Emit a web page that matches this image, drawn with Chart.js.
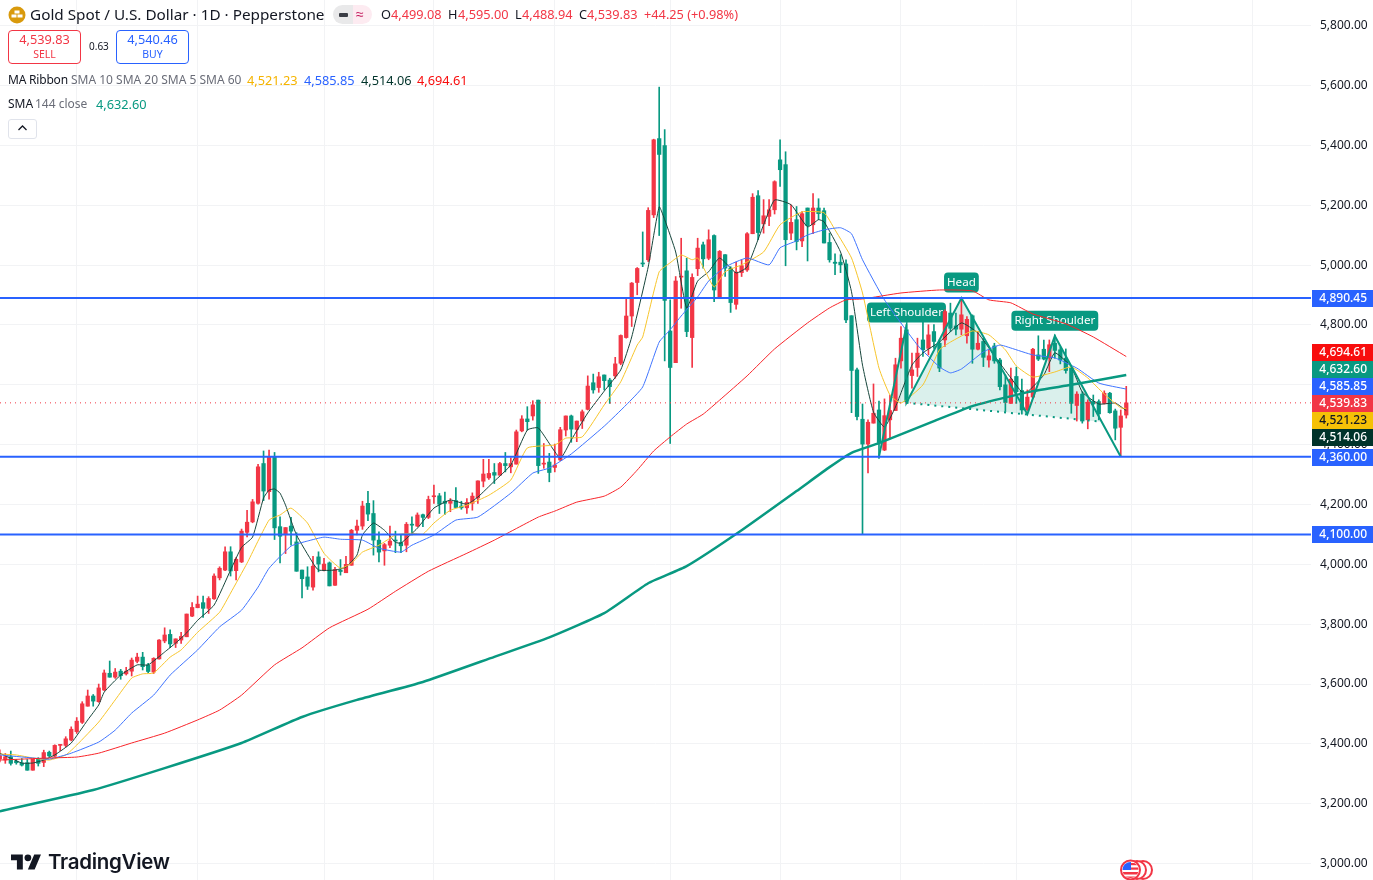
<!DOCTYPE html>
<html>
<head>
<meta charset="utf-8">
<title>Gold Spot / U.S. Dollar</title>
<script src="https://cdn.jsdelivr.net/npm/chart.js"></script>
<style>
  html, body { margin: 0; padding: 0; background: #fff; overflow: hidden; }
  body { width: 1373px; height: 880px; position: relative; font-family: "Noto Sans", sans-serif; color: #131722; }
  #chart { position: absolute; left: 0; top: 0; }
  .t { position: absolute; white-space: nowrap; line-height: 16px; font-size: 12.75px; }
  .s { font-size: 12px; }
  .up { color: #f23645; }
  .grey { color: #6a6d78; }
  .box { position: absolute; top: 30px; width: 71px; height: 32px; border-radius: 4px; background: #fff; text-align: center; }
  .box b { display: block; font-weight: 400; font-size: 12.75px; line-height: 15px; margin-top: 1px; }
  .box i { display: block; font-style: normal; font-size: 10.5px; line-height: 14px; }
</style>
</head>
<body>
<canvas id="chart" width="1373" height="880"></canvas>

<svg style="position:absolute;left:8px;top:6px" width="18" height="18" viewBox="0 0 18 18">
  <circle cx="9" cy="9" r="8.5" fill="#d99a0c"/>
  <rect x="6.5" y="4.5" width="5" height="3" fill="#fff"/>
  <rect x="3.5" y="8.5" width="5" height="3" fill="#fff"/>
  <rect x="9.5" y="8.5" width="5" height="3" fill="#fff"/>
</svg>
<div class="t" style="left:30px;top:5px;font-size:15.3px;line-height:18px">Gold Spot / U.S. Dollar · 1D · Pepperstone</div>
<div style="position:absolute;left:333px;top:5px;width:20px;height:19px;background:#e9e9ea;border-radius:10px 0 0 10px"></div>
<div style="position:absolute;left:353px;top:5px;width:19px;height:19px;background:#fdebf1;border-radius:0 10px 10px 0"></div>
<div style="position:absolute;left:339px;top:13px;width:9px;height:4px;background:#3a3d45;border-radius:1px"></div>
<div class="t" style="left:356px;top:6px;color:#c2185b;font-size:14px">≈</div>
<div class="t" style="left:381px;top:6px">O</div><div class="t up" style="left:391px;top:6px">4,499.08</div>
<div class="t" style="left:448px;top:6px">H</div><div class="t up" style="left:458px;top:6px">4,595.00</div>
<div class="t" style="left:515px;top:6px">L</div><div class="t up" style="left:522px;top:6px">4,488.94</div>
<div class="t" style="left:579px;top:6px">C</div><div class="t up" style="left:587px;top:6px">4,539.83</div>
<div class="t up" style="left:644px;top:6px">+44.25 (+0.98%)</div>

<div class="box" style="left:8px;border:1px solid #f23645;color:#f23645"><b>4,539.83</b><i>SELL</i></div>
<div class="t" style="left:89px;top:38px;font-size:10px">0.63</div>
<div class="box" style="left:116px;border:1px solid #2962ff;color:#2962ff"><b>4,540.46</b><i>BUY</i></div>

<div class="t s" style="left:8px;top:72px;letter-spacing:-0.2px">MA Ribbon</div>
<div class="t s grey" style="left:71px;top:72px">SMA 10 SMA 20 SMA 5 SMA 60</div>
<div class="t" style="left:247px;top:72px;color:#f5b400">4,521.23</div>
<div class="t" style="left:304px;top:72px;color:#2962ff">4,585.85</div>
<div class="t" style="left:361px;top:72px;color:#00332a">4,514.06</div>
<div class="t" style="left:417px;top:72px;color:#f80d0d">4,694.61</div>
<div class="t s" style="left:8px;top:96px">SMA</div>
<div class="t s grey" style="left:35px;top:96px">144 close</div>
<div class="t" style="left:96px;top:96px;color:#089981">4,632.60</div>
<div style="position:absolute;left:8px;top:119px;width:27px;height:18px;border:1px solid #e0e3eb;border-radius:3px;background:#fff"></div>
<svg style="position:absolute;left:17px;top:124px" width="11" height="8" viewBox="0 0 11 8"><path d="M1.5 6 L5.5 2 L9.5 6" fill="none" stroke="#131722" stroke-width="1.3"/></svg>

<svg style="position:absolute;left:11px;top:851px" width="30.4" height="23.7" viewBox="0 0 36 28" fill="#131722">
  <path d="M14 22H7V11H0V4h14v18zM28 22h-8l7.5-18h8L28 22z"/><circle cx="20" cy="8" r="4"/>
</svg>
<div class="t" style="left:48px;top:849px;font-family:Inter,sans-serif;font-weight:600;font-size:20.5px;line-height:26px;letter-spacing:-0.3px">TradingView</div>

<svg style="position:absolute;left:1118px;top:858px" width="38" height="22" viewBox="0 0 38 22">
  <circle cx="25" cy="12" r="9" fill="#fff" stroke="#f23645" stroke-width="2"/>
  <circle cx="19" cy="12" r="9" fill="#fff" stroke="#f23645" stroke-width="2"/>
  <clipPath id="c"><circle cx="12.5" cy="12" r="8"/></clipPath>
  <circle cx="12.5" cy="12" r="9.5" fill="#fff" stroke="#f23645" stroke-width="2"/>
  <g clip-path="url(#c)">
    <rect x="4" y="14" width="18" height="2.5" fill="#f23645"/>
    <rect x="4" y="18.5" width="18" height="2.5" fill="#f23645"/>
    <rect x="13" y="5" width="9" height="2.2" fill="#f23645"/>
    <rect x="13" y="9.5" width="9" height="2.2" fill="#f23645"/>
    <rect x="4" y="3" width="9" height="9" fill="#2962ff"/>
  </g>
</svg>

<script>
// Daily candles, left to right.
const openPrices = [3350,3346,3357,3342,3336,3337,3312,3351,3338,3372,3359,3395,3395,3413,3441,3472,3526,3560,3541,3580,3636,3623,3643,3634,3643,3676,3690,3664,3640,3684,3744,3766,3736,3747,3758,3827,3855,3872,3853,3885,3955,3981,4042,3979,4008,4107,4142,4204,4337,4243,4360,4126,4099,4128,4075,3981,3958,3924,4025,3981,4005,3930,3981,3972,3997,4114,4128,4204,4170,4081,4045,4064,4081,4073,4064,4134,4128,4166,4157,4226,4229,4211,4204,4213,4195,4189,4204,4222,4278,4289,4307,4298,4337,4326,4335,4446,4486,4496,4549,4335,4342,4324,4349,4449,4496,4451,4479,4518,4607,4591,4633,4616,4630,4672,4758,4830,4942,5007,5018,5168,5423,5400,4780,4674,4960,4981,4758,4988,5068,5023,5099,4888,5035,4990,4869,4975,4984,5105,5232,5138,5163,5185,5352,5336,5107,5152,5081,5191,5135,5191,5182,5076,5010,5010,5004,4831,4650,4485,4402,4472,4516,4382,4483,4514,4680,4784,4631,4658,4750,4722,4778,4739,4750,4840,4797,4786,4764,4831,4719,4745,4683,4730,4683,4600,4538,4628,4581,4516,4559,4700,4719,4689,4739,4717,4689,4656,4531,4569,4483,4544,4544,4538,4572,4513,4458,4499.08];
const highPrices = [3380,3368,3376,3348,3351,3348,3349,3354,3379,3376,3397,3398,3424,3457,3488,3541,3580,3565,3600,3647,3677,3652,3649,3656,3687,3703,3706,3669,3688,3749,3788,3781,3751,3773,3834,3872,3894,3894,3892,3968,3992,4059,4059,4023,4118,4181,4217,4334,4379,4382,4374,4159,4123,4157,4106,3981,3992,4027,4042,4020,4008,3990,4016,4027,4117,4148,4211,4244,4213,4109,4070,4128,4111,4098,4140,4159,4172,4168,4228,4265,4237,4242,4220,4257,4211,4220,4239,4279,4351,4351,4337,4341,4374,4356,4449,4497,4527,4547,4549,4404,4371,4402,4458,4496,4499,4479,4516,4630,4636,4642,4633,4622,4692,4767,4890,4942,4992,5111,5192,5421,5595,5453,4884,4962,5090,5023,4971,5090,5077,5118,5101,5049,5035,4995,5010,5018,5109,5239,5249,5219,5219,5282,5419,5379,5202,5196,5179,5191,5239,5222,5191,5107,5038,5035,5018,4831,4656,4536,4483,4603,4546,4553,4566,4689,4795,4801,4706,4756,4812,4801,4801,4750,4851,4873,4840,4890,4828,4834,4778,4756,4717,4739,4689,4633,4656,4659,4619,4583,4722,4764,4750,4750,4767,4726,4720,4659,4577,4577,4550,4566,4550,4580,4575,4519,4516,4595];
const lowPrices = [3340,3335,3329,3332,3326,3312,3312,3326,3324,3357,3357,3377,3390,3410,3435,3468,3526,3526,3539,3578,3623,3619,3616,3630,3627,3671,3647,3638,3635,3683,3738,3722,3722,3736,3758,3825,3855,3823,3836,3883,3948,3979,3961,3948,4006,4092,4139,4201,4213,4218,4083,4005,4036,4064,3977,3888,3916,3914,3975,3978,3928,3930,3964,3972,3997,4098,4117,4146,4031,4008,3997,4056,4039,4039,4042,4098,4126,4126,4153,4204,4170,4167,4176,4190,4184,4170,4181,4204,4259,4284,4270,4298,4309,4306,4335,4443,4449,4482,4304,4321,4276,4309,4346,4429,4408,4410,4454,4516,4572,4575,4583,4538,4622,4667,4756,4795,4901,4995,5012,5159,5099,4680,4404,4674,4856,4761,4658,4965,4990,5018,4878,4888,4962,4842,4853,4962,4979,5105,5085,5107,5132,5171,5263,4998,5085,5051,5062,5014,5105,5152,5074,5010,4968,4975,4808,4507,4483,4100,4306,4472,4354,4380,4419,4514,4656,4544,4589,4628,4695,4700,4722,4644,4728,4778,4767,4767,4739,4672,4717,4661,4659,4672,4583,4511,4538,4538,4502,4514,4555,4681,4683,4644,4689,4670,4639,4505,4479,4472,4453,4494,4483,4536,4505,4416,4360,4488.94];
const closePrices = [3360,3357,3335,3337,3329,3312,3349,3335,3371,3360,3395,3398,3417,3449,3476,3534,3560,3543,3587,3637,3623,3640,3628,3643,3680,3690,3658,3642,3686,3747,3764,3734,3751,3759,3834,3856,3867,3853,3886,3961,3987,4042,3978,4017,4111,4141,4209,4326,4245,4358,4122,4094,4123,4111,3977,3952,3927,3994,4001,4001,3928,3983,3976,4000,4114,4128,4195,4168,4081,4041,4066,4078,4078,4062,4134,4131,4165,4157,4217,4229,4201,4204,4211,4190,4189,4207,4228,4279,4302,4304,4298,4337,4330,4337,4443,4486,4477,4533,4330,4337,4307,4332,4450,4496,4452,4479,4510,4596,4583,4627,4614,4594,4670,4765,4830,4940,4989,5004,5183,5419,5370,4882,4658,4947,4962,4778,4959,5057,5021,5085,4917,5046,4990,4875,4977,4998,5105,5227,5109,5165,5185,5279,5319,5085,5143,5079,5172,5132,5191,5172,5074,5018,5006,5001,4817,4648,4494,4402,4475,4505,4407,4497,4514,4667,4756,4544,4650,4706,4717,4767,4745,4656,4845,4789,4786,4834,4819,4719,4739,4692,4697,4680,4594,4541,4619,4577,4516,4559,4719,4686,4686,4734,4715,4683,4648,4538,4569,4479,4542,4536,4503,4572,4507,4455,4496,4539.83];

// Moving averages, read at the candle numbers in the matching *Idx list.
const sma5Idx = [0,4,6,8,10,13,16,18,19,22,25,27,30,32,34,36,39,42,44,46,48,49,50,51,52,54,57,58,61,63,65,66,68,70,72,73,76,79,82,85,87,90,93,96,98,102,104,107,110,113,115,118,120,121,123,125,127,129,131,134,136,139,141,144,147,149,150,153,155,157,159,161,163,166,168,171,175,178,181,184,186,187,190,192,195,197,200,203,205];
const sma5 = [3369,3336,3336,3346,3363,3403,3480,3530,3573,3630,3664,3664,3707,3737,3771,3813,3864,3981,4057,4091,4222,4248,4252,4238,4198,4098,4004,3981,3981,3991,4031,4098,4138,4114,4074,4071,4121,4188,4215,4201,4225,4278,4332,4449,4456,4355,4416,4506,4579,4650,4760,4994,5195,5152,5044,4857,4947,4978,5024,4974,4994,5135,5218,5202,5128,5152,5145,5044,4911,4666,4509,4459,4526,4666,4707,4743,4807,4773,4697,4623,4576,4576,4633,4707,4660,4576,4536,4539,4514.06];
const sma10Idx = [0,3,6,9,12,14,18,21,24,26,28,31,33,36,40,42,45,49,51,53,56,59,62,64,66,69,72,75,77,79,82,85,89,93,96,101,103,106,110,113,116,117,120,122,124,126,127,128,130,132,135,139,142,146,150,152,155,157,160,162,164,168,171,173,177,180,183,185,188,192,195,198,201,204,205];
const sma10 = [3366,3363,3353,3346,3363,3396,3473,3547,3620,3634,3637,3690,3714,3773,3840,3904,4004,4148,4165,4188,4138,4037,3987,4004,4041,4064,4098,4104,4101,4138,4181,4198,4231,4282,4389,4399,4422,4426,4533,4610,4733,4760,4978,5008,5034,5018,5024,4994,4927,4978,5001,5044,5135,5178,5175,5118,5024,4907,4656,4566,4539,4600,4717,4743,4780,4767,4717,4663,4626,4643,4660,4623,4569,4523,4521.23];
const sma20Idx = [0,6,9,13,18,21,24,28,31,36,40,44,47,49,53,56,59,62,66,69,73,75,79,83,87,93,97,100,104,110,114,117,120,122,124,127,129,132,136,140,142,145,147,150,153,155,157,161,167,171,173,175,179,182,184,188,192,196,200,205];
const sma20 = [3363,3353,3349,3369,3406,3446,3503,3563,3630,3714,3791,3847,3924,3987,4061,4078,4091,4084,4081,4054,4041,4064,4098,4148,4158,4238,4305,4322,4369,4462,4533,4593,4743,4784,4830,4894,4947,4994,5024,5001,5058,5081,5101,5118,5125,5105,5018,4884,4733,4660,4640,4653,4710,4733,4723,4700,4690,4656,4606,4585.85];
const sma60Idx = [0,9,14,18,24,30,36,40,44,50,55,60,67,72,78,85,90,98,101,105,110,113,116,119,122,125,128,131,136,141,147,151,154,157,164,171,177,180,184,188,194,199,205];
const sma60 = [3346,3353,3356,3369,3403,3436,3480,3513,3563,3664,3721,3788,3850,3910,3977,4037,4081,4158,4178,4208,4228,4258,4315,4379,4426,4469,4502,4549,4630,4720,4807,4857,4884,4887,4907,4917,4914,4884,4874,4837,4804,4760,4694.61];
const sma144Idx = [0,17,30,44,55,65,77,90,100,110,118,125,135,145,151,155,160,170,177,182,188,195,205];
const sma144 = [3175,3246,3319,3403,3490,3547,3607,3691,3756,3837,3937,3994,4114,4245,4325,4373,4405,4479,4529,4553,4579,4600,4632.6];

// Head and shoulders drawing
const patternIdx = [160,165,165,175,187,192,204];
const patternPrice = [4360,4797,4540,4890,4502,4763,4360];
const necklineIdx = [165,200.3];
const necklinePrice = [4540,4477];
const leftFillIdx = [162.05,165,165];
const leftFillPrice = [4545,4797,4540];
const headFillIdx = [165,175,187];
const headFillPrice = [4540,4890,4502];
const rightFillIdx = [187,192,200.3];
const rightFillPrice = [4502,4763,4477];
const noteTexts = ['Left Shoulder','Head','Right Shoulder'];
const noteIdx = [165,175,192];
const notePrice = [4808,4909,4781];

// Price levels and axes
const levelPrices = [4890.45,4360,4100];
const lastPrice = 4539.83;
const priceTicks = [3000,3200,3400,3600,3800,4000,4200,4400,4600,4800,5000,5200,5400,5600,5800];
const monthTicks = [14,36,59,79,101,122,142,164,185,206,228];
const stackedTags = [
  ['4,694.61','#f80d0d','#fff'],
  ['4,632.60','#089981','#fff'],
  ['4,585.85','#2962ff','#fff'],
  ['4,539.83','#f23645','#fff'],
  ['4,521.23','#f5c107','#131722'],
  ['4,514.06','#00332a','#fff']
];

const xMin = 0.036, xMax = 238.62;
const yMin = 2945.1, yMax = 5886.2;
const upColor = '#f23645', downColor = '#089981', levelColor = '#2962ff';
const uiFont = '"Noto Sans", sans-serif';

function zipPoints(xs, ys) {
  return xs.map((x, i) => ({ x: x, y: ys[i] }));
}

function maLine(idx, values, color, width, order) {
  return {
    type: 'line', data: zipPoints(idx, values), borderColor: color, borderWidth: width,
    pointRadius: 0, tension: 0.15, fill: false, order: order
  };
}

function plainLine(idx, values, color, width, order) {
  return {
    type: 'line', data: zipPoints(idx, values), borderColor: color, borderWidth: width,
    pointRadius: 0, tension: 0, fill: false, order: order
  };
}

function shapeFill(idx, values) {
  return {
    type: 'line', data: zipPoints(idx, values), borderWidth: 0, pointRadius: 0, tension: 0,
    fill: 'shape', backgroundColor: 'rgba(8,153,129,0.15)', order: 12
  };
}

const candleColors = closePrices.map((c, i) => c >= openPrices[i] ? upColor : downColor);

const datasets = [
  shapeFill(leftFillIdx, leftFillPrice),
  shapeFill(headFillIdx, headFillPrice),
  shapeFill(rightFillIdx, rightFillPrice),
  {
    type: 'bar', data: closePrices.map((c, i) => ({ x: i, y: [lowPrices[i], highPrices[i]] })),
    backgroundColor: candleColors, barThickness: 1, grouped: false, order: 10
  },
  {
    type: 'bar', data: closePrices.map((c, i) => ({ x: i, y: [openPrices[i], c] })),
    backgroundColor: candleColors, barThickness: 3.6, minBarLength: 1, grouped: false, order: 9
  },
  maLine(sma60Idx, sma60, '#f8252a', 1, 6),
  maLine(sma20Idx, sma20, '#3f74ff', 1, 6),
  maLine(sma10Idx, sma10, '#f7c52b', 1, 6),
  maLine(sma5Idx, sma5, '#17453b', 1, 6),
  maLine(sma144Idx, sma144, downColor, 2.5, 5),
  plainLine(patternIdx, patternPrice, downColor, 2, 4),
  Object.assign(plainLine(necklineIdx, necklinePrice, downColor, 2, 4), { borderDash: [2, 5] }),
  Object.assign(plainLine([xMin, xMax], [lastPrice, lastPrice], upColor, 1, 3), { borderDash: [1, 4] })
];
levelPrices.forEach(p => datasets.push(plainLine([xMin, xMax], [p, p], levelColor, 2, 2)));

// Teal pattern notes sit under the candles and lines
const patternNotes = {
  id: 'patternNotes',
  beforeDatasetsDraw(chart) {
    const ctx = chart.ctx;
    ctx.save();
    ctx.font = '11.6px ' + uiFont;
    ctx.textAlign = 'center';
    ctx.textBaseline = 'middle';
    noteTexts.forEach((text, i) => {
      const cx = chart.scales.x.getPixelForValue(noteIdx[i]);
      const bottom = chart.scales.y.getPixelForValue(notePrice[i]);
      const w = ctx.measureText(text).width + 6;
      ctx.fillStyle = downColor;
      ctx.beginPath();
      ctx.roundRect(cx - w / 2, bottom - 20, w, 20, 4);
      ctx.fill();
      ctx.fillStyle = '#fff';
      ctx.fillText(text, cx, bottom - 9.5);
    });
    ctx.restore();
  }
};

// Coloured price tags on the right axis
const priceTags = {
  id: 'priceTags',
  afterDraw(chart) {
    const ctx = chart.ctx;
    const left = chart.chartArea.right + 1;
    const w = chart.width - left;
    const h = 17;
    function tag(top, text, bg, fg) {
      ctx.fillStyle = bg;
      ctx.fillRect(left, top, w, h);
      ctx.fillStyle = fg;
      ctx.fillText(text, chart.width - 6, top + h / 2 + 0.5);
    }
    ctx.save();
    ctx.font = '500 12px ' + uiFont;
    ctx.textAlign = 'right';
    ctx.textBaseline = 'middle';
    stackedTags.forEach((t, i) => tag(344 + i * h, t[0], t[1], t[2]));
    levelPrices.forEach(p => {
      const text = p.toLocaleString('en-US', { minimumFractionDigits: 2 });
      tag(Math.round(chart.scales.y.getPixelForValue(p)) - 8, text, levelColor, '#fff');
    });
    ctx.restore();
  }
};

new Chart(document.getElementById('chart'), {
  type: 'bar',
  data: { datasets: datasets },
  plugins: [patternNotes, priceTags],
  options: {
    responsive: false,
    animation: false,
    devicePixelRatio: 1,
    events: [],
    layout: { padding: 0 },
    plugins: { legend: { display: false }, tooltip: { enabled: false } },
    scales: {
      x: {
        type: 'linear',
        offset: false,
        min: xMin,
        max: xMax,
        border: { display: false },
        grid: { color: '#f2f3f5', drawTicks: false, offset: false },
        ticks: { display: false },
        afterBuildTicks: scale => { scale.ticks = monthTicks.map(v => ({ value: v })); }
      },
      y: {
        position: 'right',
        min: yMin,
        max: yMax,
        border: { display: false },
        grid: { color: '#f2f3f5', drawTicks: false },
        ticks: {
          padding: 9,
          color: '#131722',
          font: { family: uiFont, size: 12 },
          callback: v => v.toLocaleString('en-US', { minimumFractionDigits: 2 })
        },
        afterBuildTicks: scale => { scale.ticks = priceTicks.map(v => ({ value: v })); },
        afterFit: scale => { scale.width = 62; scale.paddingTop = 0; scale.paddingBottom = 0; }
      }
    }
  }
});
</script>
</body>
</html>
